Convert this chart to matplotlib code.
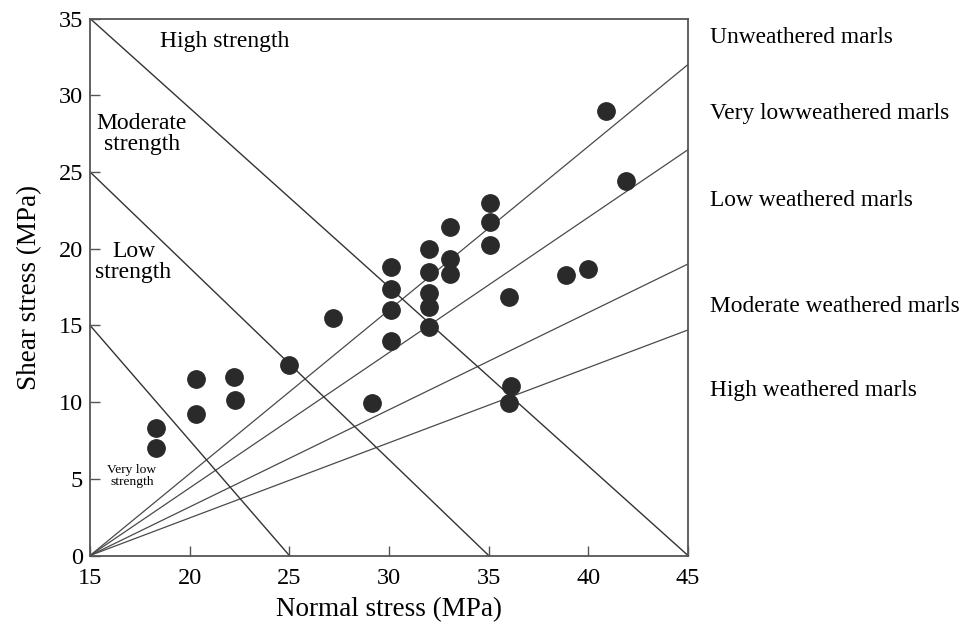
import numpy as np
import matplotlib.pyplot as plt

plt.rcParams['font.family'] = ['Liberation Serif', 'DejaVu Serif']

# measured samples
normal_stress = [18.3, 18.3, 20.3, 20.3, 22.2, 22.25, 25.0, 27.2, 29.15,
                 30.1, 30.1, 30.1, 30.1, 32.0, 32.0, 32.0, 32.0, 32.0,
                 33.05, 33.05, 33.05, 35.05, 35.05, 35.05, 36.0, 36.1, 36.0,
                 38.9, 40.0, 40.9, 41.9]
shear_stress = [8.33, 7.03, 11.5, 9.2, 11.66, 10.14, 12.42, 15.5, 9.96,
                18.83, 17.4, 15.97, 13.95, 19.96, 18.5, 17.1, 16.22, 14.92,
                21.43, 19.31, 18.35, 22.96, 21.76, 20.24, 16.88, 11.05, 9.92,
                18.27, 18.65, 29.0, 24.41]

# weathering classes: rays from (15, 0) to the value at sigma_n = 45
weathering_labels = ['Unweathered marls', 'Very lowweathered marls',
                     'Low weathered marls', 'Moderate weathered marls',
                     'High weathered marls']
weathering_end = [32.0, 26.45, 19.0, 14.7]
weathering_label_y = [33.73, 28.84, 23.17, 16.26, 10.78]

# strength classes: lines from (15, y0) down to (x1, 0)
strength_start = [35, 25, 15]
strength_end = [45, 35, 25]


def main():
    fig = plt.figure(figsize=(9.66, 6.34), dpi=100)
    ax = fig.add_axes([0.0932, 0.1238, 0.619, 0.847])

    for y_end in weathering_end:
        ax.plot([15, 45], [0, y_end], color='#4a4a4a', lw=0.9, zorder=1)
    for y0, x1 in zip(strength_start, strength_end):
        ax.plot([15, x1], [y0, 0], color='#333333', lw=1.0, zorder=1)

    ax.plot(normal_stress, shear_stress, 'o', color='#2a2a2a',
            ms=12.5, mec='#2a2a2a', zorder=3, clip_on=False)

    ax.set_xlim(15, 45)
    ax.set_ylim(0, 35)
    ax.set_xticks(np.arange(15, 46, 5))
    ax.set_yticks(np.arange(0, 36, 5))
    ax.tick_params(direction='in', length=7, width=1, color='#555555',
                   labelsize=17.5)
    ax.tick_params(axis='x', pad=9)
    ax.tick_params(axis='y', pad=5)
    for s in ax.spines.values():
        s.set_color('#555555')
        s.set_linewidth(1.3)

    ax.set_xlabel('Normal stress (MPa)', fontsize=19.5, labelpad=6)
    ax.set_ylabel('Shear stress (MPa)', fontsize=19.5, labelpad=12)

    ax.text(21.77, 33.47, 'High strength', fontsize=17, ha='center',
            va='center')
    ax.text(17.6, 27.47, 'Moderate\nstrength', fontsize=17, ha='center',
            va='center', linespacing=1.0)
    ax.text(17.18, 19.13, 'Low\nstrength', fontsize=17, ha='center',
            va='center', linespacing=1.0)
    ax.text(17.1, 5.18, 'Very low\nstrength', fontsize=9.7, ha='center',
            va='center', linespacing=1.0)

    for label, y in zip(weathering_labels, weathering_label_y):
        ax.text(46.11, y, label, fontsize=16.8, ha='left', va='center',
                clip_on=False)

    fig.savefig('out.png', dpi=100)


if __name__ == '__main__':
    main()
